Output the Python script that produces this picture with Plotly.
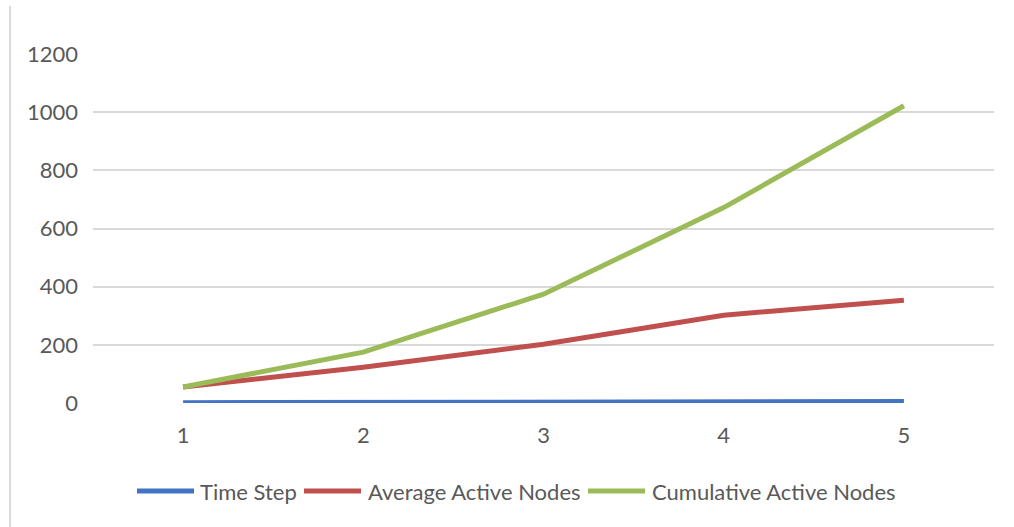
import plotly.graph_objects as go

# Simulation summary per time step
time_steps = [1, 2, 3, 4, 5]
time_step_values = [1, 2, 3, 4, 5]
average_active_nodes = [55, 123, 202, 302, 353]
cumulative_active_nodes = [55, 175, 374, 672, 1022]

series_names = ["Time Step", "Average Active Nodes", "Cumulative Active Nodes"]
series_colors = ["#4472C4", "#C0504D", "#9BBB59"]
y_ticks = [0, 200, 400, 600, 800, 1000, 1200]

FONT = "Lato"
FONT_SIZE = 22
TEXT_COLOR = "#595959"
GRID_COLOR = "#D9D9D9"

W, H = 1014, 527
L, R, T, B = 93, 20, 54, 124
plot_w = W - L - R
plot_h = H - T - B


def px_to_paper_x(px):
    return (px - L) / plot_w


def px_to_paper_y(py):
    return (H - B - py) / plot_h


fig = go.Figure()
for name, values, color in zip(
    series_names,
    [time_step_values, average_active_nodes, cumulative_active_nodes],
    series_colors,
):
    fig.add_trace(
        go.Scatter(
            x=time_steps,
            y=values,
            name=name,
            mode="lines",
            line=dict(color=color, width=5),
            showlegend=False,
        )
    )

# Legend drawn below the plot: a line sample followed by its label
legend_items = [
    (137, 200),
    (304, 368),
    (588, 652),
]
legend_y = 491
shapes = []
annotations = []
for (x0, tx), name, color in zip(legend_items, series_names, series_colors):
    shapes.append(
        dict(
            type="line",
            xref="paper",
            yref="paper",
            x0=px_to_paper_x(x0),
            x1=px_to_paper_x(x0 + 57),
            y0=px_to_paper_y(legend_y),
            y1=px_to_paper_y(legend_y),
            line=dict(color=color, width=5),
        )
    )
    annotations.append(
        dict(
            text=name,
            xref="paper",
            yref="paper",
            x=px_to_paper_x(tx - 2),
            y=px_to_paper_y(legend_y),
            xanchor="left",
            yanchor="middle",
            showarrow=False,
            font=dict(family=FONT, size=FONT_SIZE, color=TEXT_COLOR),
        )
    )

# Chart-area border on the left side
shapes.append(
    dict(
        type="line",
        xref="paper",
        yref="paper",
        x0=px_to_paper_x(10),
        x1=px_to_paper_x(10),
        y0=px_to_paper_y(6),
        y1=px_to_paper_y(H + 2),
        line=dict(color="#D9D9D9", width=2),
    )
)

fig.update_layout(
    width=W,
    height=H,
    margin=dict(l=L, r=R, t=T, b=B),
    paper_bgcolor="white",
    plot_bgcolor="white",
    font=dict(family=FONT, size=FONT_SIZE, color=TEXT_COLOR),
    shapes=shapes,
    annotations=annotations,
    xaxis=dict(
        range=[0.5, 5.5],
        tickmode="array",
        tickvals=time_steps,
        ticktext=[str(t) for t in time_steps],
        showgrid=False,
        zeroline=False,
        showline=False,
        ticks="",
        ticklabelstandoff=17,
        tickfont=dict(family=FONT, size=FONT_SIZE, color=TEXT_COLOR),
    ),
    yaxis=dict(
        range=[0, 1200],
        tickmode="array",
        tickvals=y_ticks,
        showgrid=True,
        gridcolor=GRID_COLOR,
        gridwidth=2,
        zeroline=False,
        showline=False,
        ticks="",
        ticklabelstandoff=14,
        tickfont=dict(family=FONT, size=FONT_SIZE, color=TEXT_COLOR),
    ),
)

fig.write_html("out.html")
